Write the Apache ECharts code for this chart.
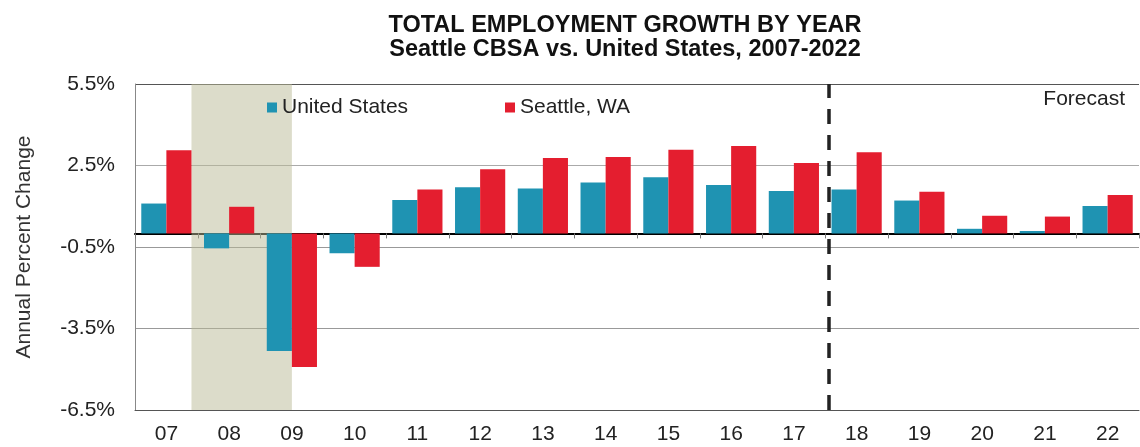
<!DOCTYPE html>
<html>
<head>
<meta charset="utf-8">
<script src="https://cdn.jsdelivr.net/npm/echarts@6/dist/echarts.min.js"></script>
<style>
  html, body { margin: 0; padding: 0; background: #fff; }
  #chart { width: 1140px; height: 447px; }
</style>
</head>
<body>
<div id="chart"></div>
<script>
// 年份
var years = ['07', '08', '09', '10', '11', '12', '13', '14', '15', '16', '17', '18', '19', '20', '21', '22'];
// 美国
var usGrowth = [1.1, -0.55, -4.33, -0.73, 1.23, 1.7, 1.65, 1.87, 2.07, 1.78, 1.56, 1.62, 1.21, 0.17, 0.09, 1.01];
// 西雅图
var seattleGrowth = [3.06, 0.98, -4.92, -1.23, 1.62, 2.36, 2.78, 2.81, 3.08, 3.22, 2.59, 2.99, 1.53, 0.65, 0.62, 1.41];
// 纵轴刻度
var yTicks = [-6.5, -3.5, -0.5, 2.5, 5.5];
// 衰退期 / 预测分界（类目序号）
var recession = [0.4, 2.0];
var forecastStart = 10.56;

var chart = echarts.init(document.getElementById('chart'));
var font = 'Arial, "Liberation Sans", sans-serif';

var option = {
    backgroundColor: '#fff',
    animation: false,
    title: {
        text: 'TOTAL EMPLOYMENT GROWTH BY YEAR\nSeattle CBSA vs. United States, 2007-2022',
        left: 620,
        textAlign: 'center',
        top: 9,
        textStyle: {
            color: '#111',
            fontSize: 23.5,
            fontWeight: 'bold',
            fontFamily: font,
            lineHeight: 23.5
        }
    },
    graphic: [{
        type: 'text',
        right: 15,
        top: 89,
        style: { text: 'Forecast', fill: '#222', font: '21px ' + font }
    }],
    legend: [{
        data: ['United States'],
        left: 262,
        top: 92,
        itemWidth: 10,
        itemHeight: 10,
        icon: 'rect',
        textStyle: { color: '#222', fontSize: 21, fontFamily: font }
    }, {
        data: ['Seattle, WA'],
        left: 500,
        top: 92,
        itemWidth: 10,
        itemHeight: 10,
        icon: 'rect',
        textStyle: { color: '#222', fontSize: 21, fontFamily: font }
    }],
    grid: { left: 135, right: 1, top: 84, bottom: 37 },
    xAxis: [{
        type: 'category',
        data: years,
        position: 'bottom',
        axisLine: { onZero: false, lineStyle: { color: '#555' } },
        axisTick: { show: false },
        axisLabel: { color: '#222', fontSize: 21, fontFamily: font, margin: 14 }
    }, {
        type: 'category',
        data: years,
        position: 'bottom',
        axisLine: { onZero: true, lineStyle: { color: '#000', width: 2 } },
        axisTick: { show: true, length: 5, lineStyle: { color: '#777' } },
        axisLabel: { show: false }
    }, {
        type: 'value',
        min: -0.5,
        max: years.length - 0.5,
        show: false
    }],
    yAxis: {
        type: 'value',
        min: yTicks[0],
        max: yTicks[yTicks.length - 1],
        interval: 3,
        name: 'Annual Percent Change',
        nameLocation: 'middle',
        nameGap: 100,
        nameTextStyle: { color: '#333', fontSize: 21, fontFamily: font },
        axisLine: { show: true, onZero: false, lineStyle: { color: '#888' } },
        axisTick: { show: false },
        axisLabel: {
            color: '#222', fontSize: 21, fontFamily: font, margin: 20,
            formatter: function (v) { return v.toFixed(1) + '%'; }
        },
        splitLine: { lineStyle: { color: ['#666', '#999', '#999', '#aaa', '#555'] } }
    },
    series: [{
        name: 'shade',
        type: 'line',
        xAxisIndex: 2,
        data: [],
        silent: true,
        z: 1,
        markArea: {
            silent: true,
            itemStyle: { color: 'rgba(185,185,150,0.5)' },
            data: [[{ xAxis: recession[0] }, { xAxis: recession[1] }]]
        },
        markLine: {
            silent: true,
            symbol: 'none',
            label: { show: false },
            lineStyle: { color: '#222', type: [15, 11], width: 3.5 },
            data: [{ xAxis: forecastStart }]
        }
    }, {
        name: 'United States',
        type: 'bar',
        data: usGrowth,
        barGap: '0%',
        barCategoryGap: '20%',
        itemStyle: { color: '#1f93b2' },
        z: 3
    }, {
        name: 'Seattle, WA',
        type: 'bar',
        data: seattleGrowth,
        barGap: '0%',
        barCategoryGap: '20%',
        itemStyle: { color: '#e41e2f' },
        z: 3
    }]
};
chart.setOption(option);
</script>
</body>
</html>
